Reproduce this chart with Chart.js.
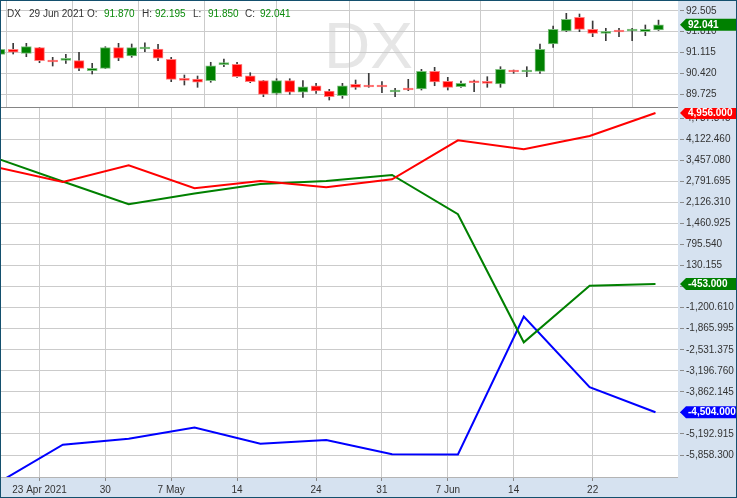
<!DOCTYPE html>
<html>
<head>
<meta charset="utf-8">
<script src="https://cdn.jsdelivr.net/npm/chart.js@4.4.0/dist/chart.umd.min.js"></script>
<style>
  html, body { margin: 0; padding: 0; background: #fff; }
  #wrap { position: relative; width: 737px; height: 498px; overflow: hidden; }
  #topBox { position: absolute; left: 0; top: 0; width: 737px; height: 108px; }
  #botBox { position: absolute; left: 0; top: 108px; width: 737px; height: 390px; }
  #frame { position: absolute; left: 0; top: 0; width: 737px; height: 498px; box-sizing: border-box;
           border: 1px solid #14506e; pointer-events: none; }
</style>
</head>
<body>
<div id="wrap">
  <div id="topBox"><canvas id="priceChart"></canvas></div>
  <div id="botBox"><canvas id="cotChart"></canvas></div>
  <div id="frame"></div>
</div>
<script>
// look & feel
const FONT = '"Liberation Sans", Arial, sans-serif';
const GRID = '#cbcbcb';
const PANEL = '#d6e2f0';
const TXT = '#333333';
const UP = '#008000', UP_EDGE = '#80c080';
const DOWN = '#ff0000', DOWN_EDGE = '#ff8080';
const AXIS_W = 59;

// data: daily DX candles, 20 Apr 2021 .. 29 Jun 2021 (trading day index 0..50)
const symbol = 'DX';
const lastDate = '29 Jun 2021';
const opens  = [91.057, 91.224, 91.090, 91.277, 90.817, 90.857, 90.844, 90.511, 90.591, 91.277,
                91.000, 91.233, 91.233, 90.890, 90.211, 90.234, 90.178, 90.711, 90.724, 90.344,
                90.178, 89.758, 90.178, 89.792, 90.011, 89.835, 89.678, 90.058, 89.985, 89.985,
                89.802, 89.888, 89.901, 90.491, 90.158, 89.978, 90.128, 90.158, 90.068, 90.484,
                90.468, 90.491, 91.400, 91.833, 92.289, 91.889, 91.756, 91.816, 91.833, 91.810,
                91.870];
const highs  = [91.270, 91.423, 91.423, 91.290, 90.957, 91.057, 91.124, 90.757, 91.310, 91.423,
                91.400, 91.443, 91.390, 90.957, 90.368, 90.334, 90.791, 90.901, 90.791, 90.444,
                90.190, 90.244, 90.244, 90.178, 90.091, 89.891, 90.091, 90.201, 90.424, 90.145,
                89.925, 90.224, 90.557, 90.624, 90.291, 90.168, 90.201, 90.311, 90.644, 90.534,
                90.644, 91.400, 91.999, 92.422, 92.399, 92.166, 91.923, 91.923, 91.923, 92.033,
                92.195];
const lows   = [91.020, 91.067, 90.977, 90.777, 90.667, 90.757, 90.511, 90.401, 90.580, 90.844,
                90.957, 91.144, 90.844, 90.145, 90.035, 89.958, 90.125, 90.644, 90.291, 90.111,
                89.645, 89.725, 89.725, 89.625, 89.758, 89.535, 89.592, 89.891, 89.958, 89.778,
                89.645, 89.845, 89.868, 90.011, 89.868, 89.958, 89.812, 89.958, 89.958, 90.424,
                90.311, 90.424, 91.290, 91.810, 91.810, 91.643, 91.510, 91.643, 91.510, 91.676,
                91.850];
const closes = [91.224, 91.124, 91.310, 90.844, 90.800, 90.877, 90.591, 90.591, 91.277, 90.924,
                91.277, 91.277, 90.924, 90.224, 90.191, 90.125, 90.677, 90.734, 90.311, 90.145,
                89.725, 90.178, 89.792, 89.978, 89.835, 89.645, 90.011, 89.958, 89.968, 89.968,
                89.822, 89.868, 90.491, 90.135, 89.958, 90.091, 90.111, 90.091, 90.557, 90.468,
                90.484, 91.224, 91.889, 92.222, 91.889, 91.756, 91.800, 91.800, 91.850, 91.889,
                92.041];

// x axis labels (trading day index -> text)
const dateTickIdx    = [3, 8, 13, 18, 24, 29, 34, 39, 45];
const dateTickLabels = ['23 Apr 2021', '30', '7 May', '14', '24', '31', '7 Jun', '14', '22'];

// weekly positioning lines (Tuesdays)
const cotIdx   = [0, 5, 10, 15, 20, 25, 30, 35, 40, 45, 50];
const cotRed   = [3237, 2773, 3301, 2574, 2804, 2605, 2858, 4091, 3806, 4227, 4956];
const cotGreen = [3519, 2788, 2068, 2409, 2709, 2804, 2994, 1755, -2295, -506, -453];
const cotBlue  = [-6756, -5530, -5340, -4990, -5500, -5380, -5830, -5840, -1480, -3710, -4504];

// axis ticks
const priceTicks = [89.725, 90.42, 91.115, 91.81, 92.505];
const cotTicks = [4787.845, 4122.46, 3457.08, 2791.695, 2126.31, 1460.925, 795.54, 130.155, -535.23,
                  -1200.61, -1865.995, -2531.375, -3196.76, -3862.145, -4527.53, -5192.915, -5858.3];

// visible ranges
const X_MIN = 0, X_MAX = 51.48;
const PRICE_MIN = 89.269, PRICE_MAX = 92.865;
const COT_MIN = -6552.7, COT_MAX = 5111.9;
const COT_SHIFT = -0.23; // report date sits slightly before the candle slot

const fmt3 = v => v.toLocaleString('en-US', { minimumFractionDigits: 3, maximumFractionDigits: 3 });

function xScale(showLabels) {
  return {
    type: 'linear', min: X_MIN, max: X_MAX, offset: false,
    afterBuildTicks: s => { s.ticks = dateTickIdx.map(v => ({ value: v })); },
    afterFit: s => { s.height = showLabels ? 21 : 0; s.paddingLeft = 0; s.paddingRight = 0; },
    grid: { color: GRID, drawTicks: showLabels, tickLength: 4, tickColor: '#8a8a8a' },
    border: { display: false },
    ticks: {
      display: showLabels, autoSkip: false, maxRotation: 0, padding: 3, color: TXT,
      font: { family: FONT, size: 10 },
      callback: (v, i) => dateTickLabels[i]
    }
  };
}

function yScale(min, max, tickList, format) {
  return {
    position: 'right', min: min, max: max,
    afterBuildTicks: s => { s.ticks = tickList.map(v => ({ value: v })); },
    afterFit: s => { s.width = AXIS_W; s.paddingTop = 0; s.paddingBottom = 0; },
    grid: { color: GRID, tickLength: 6, tickColor: '#8a8a8a', tickBorderDash: [0, 2, 4, 20] },
    border: { display: false },
    ticks: { padding: 2, color: TXT, font: { family: FONT, size: 10 }, callback: v => format(v) }
  };
}

function drawFlag(chart, value, color, text) {
  const { ctx, chartArea: a, width } = chart;
  const y = chart.scales.y.getPixelForValue(value);
  const x0 = a.right + 2, h = 12;
  ctx.save();
  ctx.beginPath();
  ctx.moveTo(x0, y);
  ctx.lineTo(x0 + 6, y - h / 2);
  ctx.lineTo(width, y - h / 2);
  ctx.lineTo(width, y + h / 2);
  ctx.lineTo(x0 + 6, y + h / 2);
  ctx.closePath();
  ctx.fillStyle = color;
  ctx.fill();
  ctx.fillStyle = '#ffffff';
  ctx.font = 'bold 10px ' + FONT;
  ctx.textAlign = 'left';
  ctx.textBaseline = 'middle';
  ctx.fillText(text, x0 + 8, y + 0.5);
  ctx.restore();
}

const last = closes.length - 1;

const pricePane = {
  id: 'pricePane',
  beforeDraw(chart) {
    const { ctx, chartArea: a, width, height } = chart;
    ctx.save();
    ctx.fillStyle = PANEL;
    ctx.fillRect(a.right, 0, width - a.right, height);
    ctx.fillStyle = '#e6e6e6';
    ctx.font = '64px ' + FONT;
    ctx.textAlign = 'center';
    ctx.textBaseline = 'alphabetic';
    ctx.fillText(symbol, width / 2, 68);
    ctx.restore();
  },
  afterDraw(chart) {
    const { ctx, chartArea: a } = chart;
    ctx.save();
    // pane separator
    ctx.strokeStyle = '#858585';
    ctx.lineWidth = 1;
    ctx.beginPath();
    ctx.moveTo(a.left, a.bottom - 0.5);
    ctx.lineTo(a.right, a.bottom - 0.5);
    ctx.stroke();
    // OHLC header
    const green = '#0a8a0a';
    const parts = [
      [symbol, 7, TXT], [lastDate, 29, TXT],
      ['O:', 87, TXT], [opens[last].toFixed(3), 104, green],
      ['H:', 142, TXT], [highs[last].toFixed(3), 155, green],
      ['L:', 193, TXT], [lows[last].toFixed(3), 208, green],
      ['C:', 245, TXT], [closes[last].toFixed(3), 260, green]
    ];
    ctx.font = '10px ' + FONT;
    ctx.textAlign = 'left';
    ctx.textBaseline = 'middle';
    parts.forEach(([t, x, c]) => { ctx.fillStyle = c; ctx.fillText(t, x, 14.5); });
    ctx.restore();
    const up = closes[last] >= opens[last];
    drawFlag(chart, closes[last], up ? UP : DOWN, closes[last].toFixed(3));
  }
};

const cotPane = {
  id: 'cotPane',
  beforeDraw(chart) {
    const { ctx, chartArea: a, width, height } = chart;
    ctx.save();
    ctx.fillStyle = PANEL;
    ctx.fillRect(a.right, 0, width - a.right, height);
    ctx.fillRect(0, a.bottom, width, height - a.bottom);
    ctx.restore();
  },
  afterDraw(chart) {
    const { ctx, chartArea: a } = chart;
    ctx.save();
    ctx.strokeStyle = '#b4b4b4';
    ctx.lineWidth = 1;
    ctx.beginPath();
    ctx.moveTo(0, a.bottom + 0.5);
    ctx.lineTo(a.right, a.bottom + 0.5);
    ctx.stroke();
    ctx.restore();
    chart.data.datasets.forEach(ds => {
      const v = ds.data[ds.data.length - 1].y;
      drawFlag(chart, v, ds.borderColor, fmt3(v));
    });
  }
};

const idx = closes.map((_, i) => i);

new Chart(document.getElementById('priceChart'), {
  type: 'bar',
  data: {
    datasets: [
      {
        label: 'wick',
        data: idx.map(i => ({ x: i, y: [lows[i], highs[i]] })),
        backgroundColor: '#3a3a3a',
        barThickness: 1,
        grouped: false,
        order: 2
      },
      {
        label: 'body',
        data: idx.map(i => ({ x: i, y: [opens[i], closes[i]] })),
        backgroundColor: idx.map(i => closes[i] >= opens[i] ? UP : DOWN),
        borderColor: idx.map(i => closes[i] >= opens[i] ? UP_EDGE : DOWN_EDGE),
        borderWidth: 1,
        borderSkipped: false,
        barThickness: 10,
        minBarLength: 2,
        grouped: false,
        order: 1
      }
    ]
  },
  options: {
    responsive: true,
    maintainAspectRatio: false,
    animation: false,
    layout: { padding: 0 },
    plugins: { legend: { display: false }, tooltip: { enabled: false } },
    scales: {
      x: xScale(false),
      y: yScale(PRICE_MIN, PRICE_MAX, priceTicks, v => v.toFixed(3))
    }
  },
  plugins: [pricePane]
});

const linePts = vals => vals.map((v, i) => ({ x: cotIdx[i] + COT_SHIFT, y: v }));

new Chart(document.getElementById('cotChart'), {
  type: 'line',
  data: {
    datasets: [
      { label: 'red', data: linePts(cotRed), borderColor: '#ff0000' },
      { label: 'green', data: linePts(cotGreen), borderColor: '#008000' },
      { label: 'blue', data: linePts(cotBlue), borderColor: '#0000ff' }
    ]
  },
  options: {
    responsive: true,
    maintainAspectRatio: false,
    animation: false,
    layout: { padding: 0 },
    elements: { line: { borderWidth: 2, tension: 0 }, point: { radius: 0 } },
    plugins: { legend: { display: false }, tooltip: { enabled: false } },
    scales: {
      x: xScale(true),
      y: yScale(COT_MIN, COT_MAX, cotTicks, fmt3)
    }
  },
  plugins: [cotPane]
});
</script>
</body>
</html>
